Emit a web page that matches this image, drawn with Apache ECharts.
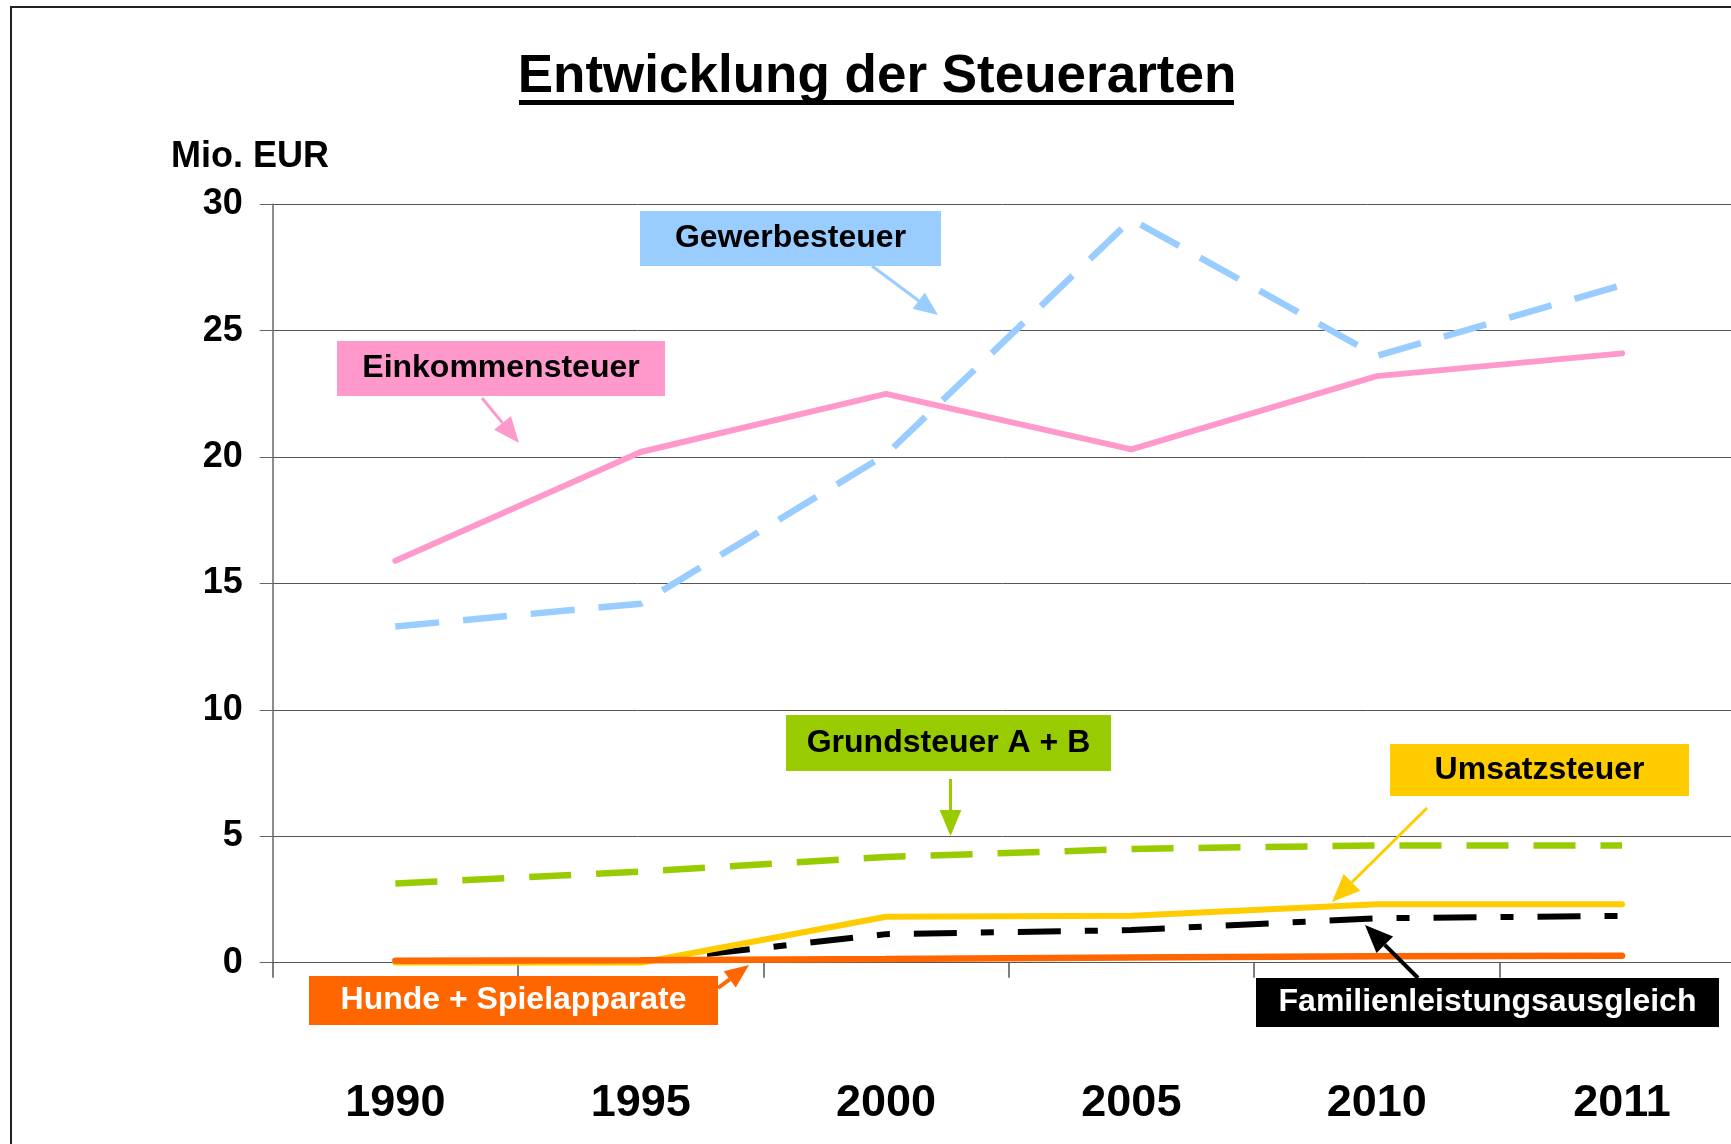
<!DOCTYPE html>
<html>
<head>
<meta charset="utf-8">
<title>Entwicklung der Steuerarten</title>
<script src="https://cdn.jsdelivr.net/npm/echarts@6/dist/echarts.min.js"></script>
<style>
  html, body { margin: 0; padding: 0; background: #fff; }
  #main { width: 1731px; height: 1144px; }
</style>
</head>
<body>
<div id="main"></div>
<script>
var years = ['1990', '1995', '2000', '2005', '2010', '2011'];
var gewerbesteuer = [13.3, 14.2, 20.1, 29.4, 24.0, 26.8];
var einkommensteuer = [15.9, 20.2, 22.5, 20.3, 23.2, 24.1];
var grundsteuer = [3.13, 3.6, 4.18, 4.5, 4.64, 4.64];
var familienleistungsausgleich = [0.05, 0.05, 1.13, 1.29, 1.76, 1.85];
var umsatzsteuer = [0.0, 0.0, 1.82, 1.86, 2.31, 2.31];
var hundeSpielapparate = [0.08, 0.1, 0.15, 0.21, 0.26, 0.27];
var yTicks = [0, 5, 10, 15, 20, 25, 30];

var FONT = '"Liberation Sans", Arial, Helvetica, sans-serif';

// Pfeil: Linie + gefuellte Spitze
function arrow(x1, y1, x2, y2, color, w, head) {
  var dx = x2 - x1, dy = y2 - y1;
  var len = Math.sqrt(dx * dx + dy * dy);
  var ux = dx / len, uy = dy / len;
  var bx = x2 - ux * head, by = y2 - uy * head;
  var hw = head * 0.42;
  return [
    { type: 'line', z: 100, shape: { x1: x1, y1: y1, x2: bx, y2: by }, style: { stroke: color, lineWidth: w } },
    { type: 'polygon', z: 100, shape: { points: [[x2, y2], [bx - uy * hw, by + ux * hw], [bx + uy * hw, by - ux * hw]] }, style: { fill: color } }
  ];
}

// Beschriftungskasten
function tag(x, y, w, h, bg, color, text) {
  return [
    { type: 'rect', z: 100, shape: { x: x, y: y, width: w, height: h }, style: { fill: bg } },
    { type: 'text', z: 101, x: x + w / 2, y: y + h / 2,
      style: { text: text, fill: color, font: 'bold 32px ' + FONT, align: 'center', verticalAlign: 'middle' } }
  ];
}

function line(name, data, color, width, type) {
  return {
    name: name,
    type: 'line',
    data: data,
    showSymbol: false,
    symbol: 'none',
    silent: true,
    lineStyle: { color: color, width: width, type: type, cap: type === 'solid' ? 'round' : 'butt' }
  };
}

var graphics = [].concat(
  [
    { type: 'rect', shape: { x: 11, y: 7, width: 3000, height: 3000 }, style: { fill: null, stroke: '#222', lineWidth: 2 } },
    { type: 'text', x: 877, y: 77, style: { text: 'Entwicklung der Steuerarten', fill: '#000', font: 'bold 53px ' + FONT, align: 'center', verticalAlign: 'middle' } },
    { type: 'rect', shape: { x: 519, y: 100, width: 715, height: 5 }, style: { fill: '#000' } },
    { type: 'text', x: 171, y: 157, style: { text: 'Mio. EUR', fill: '#000', font: 'bold 36px ' + FONT, align: 'left', verticalAlign: 'middle' } }
  ],
  tag(640, 211, 301, 55, '#99CCFF', '#000', 'Gewerbesteuer'),
  arrow(872, 266, 938, 315, '#99CCFF', 3, 24),
  tag(337, 341, 328, 55, '#FF99CC', '#000', 'Einkommensteuer'),
  arrow(482, 398, 519, 443, '#FF99CC', 3, 26),
  tag(786, 715, 325, 56, '#99CC00', '#000', 'Grundsteuer A + B'),
  arrow(950.5, 779, 950.5, 836, '#99CC00', 3, 26),
  tag(1390, 744, 299, 52, '#FFCC00', '#000', 'Umsatzsteuer'),
  arrow(1427, 808, 1332, 902, '#FFCC00', 3, 28),
  tag(309, 976, 409, 49, '#FF6600', '#fff', 'Hunde + Spielapparate'),
  arrow(718, 988, 749, 965, '#FF6600', 4, 24),
  tag(1256, 978, 463, 49, '#000', '#fff', 'Familienleistungsausgleich'),
  arrow(1418, 978, 1365, 925, '#000', 4, 28)
);

var myChart = echarts.init(document.getElementById('main'));
myChart.setOption({
  backgroundColor: '#fff',
  animation: false,
  grid: { left: 272.7, top: 204.2, width: 1472, height: 758.5, outerBoundsMode: 'none', containLabel: false },
  xAxis: {
    type: 'category',
    data: years,
    boundaryGap: true,
    axisLine: { show: true, lineStyle: { color: '#555', width: 1 } },
    axisTick: { show: true, length: 15, interval: 0, lineStyle: { color: '#555', width: 1.5 } },
    axisLabel: { margin: 118, color: '#000', fontSize: 45, fontWeight: 'bold', fontFamily: FONT, interval: 0 },
    splitLine: { show: false }
  },
  yAxis: {
    type: 'value',
    min: yTicks[0],
    max: yTicks[yTicks.length - 1],
    interval: yTicks[1] - yTicks[0],
    axisLine: { show: true, lineStyle: { color: '#666', width: 1.5 } },
    axisTick: { show: true, length: 13, lineStyle: { color: '#666' } },
    axisLabel: { margin: 30, color: '#000', fontSize: 36, fontWeight: 'bold', fontFamily: FONT, padding: [4, 0, 0, 0] },
    splitLine: { show: true, lineStyle: { color: '#555', width: 1 } }
  },
  series: [
    line('Gewerbesteuer', gewerbesteuer, '#99CCFF', 6.5, [44, 24]),
    line('Einkommensteuer', einkommensteuer, '#FF99CC', 6, 'solid'),
    line('Grundsteuer A + B', grundsteuer, '#99CC00', 6.5, [42, 25]),
    line('Familienleistungsausgleich', familienleistungsausgleich, '#000', 6, [43, 24, 13, 24]),
    line('Umsatzsteuer', umsatzsteuer, '#FFCC00', 6, 'solid'),
    line('Hunde + Spielapparate', hundeSpielapparate, '#FF6600', 6.5, 'solid')
  ],
  graphic: graphics
});
</script>
</body>
</html>
